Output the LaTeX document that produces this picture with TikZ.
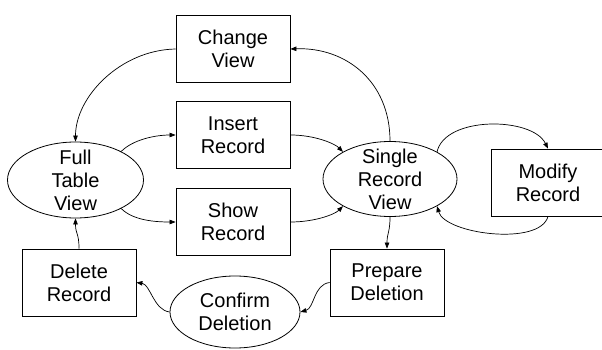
\documentclass[tikz,border=0pt]{standalone}
\usepackage{fontspec}
\setmainfont{Liberation Sans}
\usetikzlibrary{shapes.geometric,arrows.meta}
\begin{document}
\begin{tikzpicture}[x=1pt,y=-1pt,
  every node/.style={font=\fontsize{20}{23}\selectfont},
  box/.style={draw,rectangle,minimum width=114pt,minimum height=67pt,inner sep=0pt,align=center,line width=0.8pt},
  oval/.style={draw,ellipse,inner sep=0pt,line width=0.8pt},
  lbl/.style={align=center,inner sep=0pt},
  flow/.style={line width=0.7pt,-{Triangle[length=6pt,width=4.5pt]}}]
\useasboundingbox (0,0) rectangle (602,350);

% activity boxes
\node[box] (cv) at (233,49) {Change\\View};
\node[box] (ir) at (233,135) {Insert\\Record};
\node[box] (sr) at (233,222) {Show\\Record};
\node[box] (dr) at (79,282.5) {Delete\\Record};
\node[box] (pd) at (387,282.5) {Prepare\\Deletion};
\node[box] (mr) at (548,182.5) {Modify\\Record};

% state ovals
\node[oval,minimum width=136pt,minimum height=76pt] (ftv) at (75.5,180) {};
\node[lbl] (ftvt) at (ftv) {Full\\Table\\View};
\node[oval,minimum width=134pt,minimum height=75pt] (srv) at (390,179) {};
\node[lbl] (srvt) at (srv) {Single\\Record\\View};
\node[oval,minimum width=130pt,minimum height=72pt] (cd) at (235,312) {};
\node[lbl] (cdt) at (cd) {Confirm\\Deletion};

% transitions
\draw[flow] (srv.north) .. controls +(0,-60) and +(55,-2) .. (cv.east);
\draw[flow] (cv.west) .. controls +(-55,1) and +(0,-45) .. (ftv.north);
\draw[flow] (ftv.32) .. controls +(12,-12) and +(-20,0) .. (ir.west);
\draw[flow] (ir.east) .. controls +(25,0) and +(-8,-8) .. (srv.150);
\draw[flow] (ftv.-32) .. controls +(12,12) and +(-20,0) .. (sr.west);
\draw[flow] (sr.east) .. controls +(25,0) and +(-8,8) .. (srv.210);
\draw[flow] (srv.30) .. controls +(8,-36) and +(-16,-32) .. (mr.north);
\draw[flow] (mr.south) .. controls +(-8,30) and +(8,28) .. (srv.330);
\draw[flow] (srv.south) .. controls +(0,16) and +(0,-16) .. (pd.north);
\draw[flow] (pd.west) .. controls +(-16,2) and +(14,-4) .. (cd.east);
\draw[flow] (cd.west) .. controls +(-16,-2) and +(14,2) .. (dr.east);
\draw[flow] (dr.north) .. controls +(0,-16) and +(0,16) .. (ftv.south);
\end{tikzpicture}
\end{document}
